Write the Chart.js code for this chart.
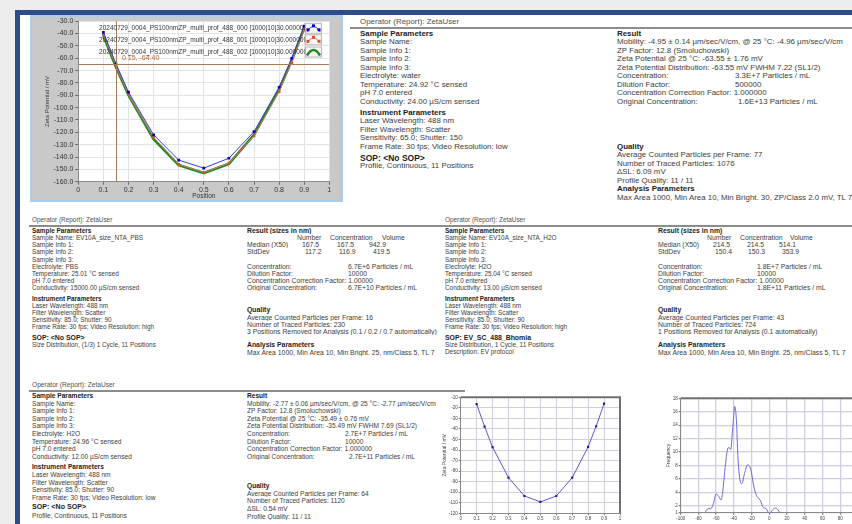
<!DOCTYPE html>
<html>
<head>
<meta charset="utf-8">
<script src="https://cdn.jsdelivr.net/npm/chart.js@4.4.1/dist/chart.umd.min.js"></script>
<style>
html, body { margin: 0; padding: 0; }
body { width: 852px; height: 524px; overflow: hidden; position: relative; background: #fff;
       font-family: "Liberation Sans", Arial, sans-serif; }
.abs { position: absolute; }
.ln { position: absolute; white-space: nowrap; color: #3c3c3c; }
.ln span { position: absolute; top: 0; white-space: nowrap; }
.b { font-weight: bold; color: #1c1c1c; }
.hd { color: #505050; }
canvas { position: absolute; }
</style>
</head>
<body>

<div class="abs" style="left:0;top:0;width:852px;height:11px;background:#ededed"></div>
<div class="abs" style="left:0;top:0;width:15px;height:524px;background:#ededed"></div>
<div class="abs" style="left:15px;top:10px;width:837px;height:5px;background:#2d4c8a"></div>
<div class="abs" style="left:15px;top:10px;width:5px;height:514px;background:#2d4c8a"></div>

<div class="abs" style="left:30px;top:15px;width:313px;height:187px;background:#c9c9c9;border:2px solid #a9cdea;box-sizing:border-box"></div>
<canvas id="profileChart" width="313" height="187" style="left:30px;top:15px"></canvas>

<div id="text"></div>

<div class="abs" style="left:440px;top:392px;width:412px;height:132px;background:#fff"></div>
<canvas id="h2oChart" width="200" height="132" style="left:440px;top:392px"></canvas>
<canvas id="freqChart" width="230" height="132" style="left:640px;top:392px"></canvas>

<script>
// top chart: three runs of the zeta potential profile
const positions = [0.1, 0.15, 0.2, 0.3, 0.4, 0.5, 0.6, 0.7, 0.8, 0.85, 0.9];
const zp000 = [-39, -64.5, -87.5, -122, -142.5, -149, -141, -119.5, -83.5, -60, -34];
const zp001 = [-41, -66, -89.5, -124, -146, -152.5, -145, -123, -87, -63.5, -37];
const zp002 = [-42, -67, -90, -125.5, -146.5, -153, -145.5, -122, -85.5, -62, -35.5];
const runNames = [
  '20240729_0004_PS100nmZP_multi_prof_488_000 [1000|10|30.000000',
  '20240729_0004_PS100nmZP_multi_prof_488_001 [1000|10|30.000000',
  '20240729_0004_PS100nmZP_multi_prof_488_002 [1000|10|30.000000'
];
const cursorX = 0.15;
const cursorY = -64.40;

// bottom middle: profile of the H2O sample
const h2oZp = [-16.5, -37.8, -57.3, -86.2, -103.6, -109.2, -103.6, -86.2, -57, -37.5, -16];

// bottom right: zeta potential distribution
const freqMv = [-73, -69, -66, -63, -60, -57, -54.5, -52.5, -50, -47.5, -45.5, -43.5, -41.5, -39, -37, -35.5, -33.5, -31, -28, -24.5, -21, -18, -15, -12.5, -10, -7, -3.5, 0, 3.5, 7, 10, 12.5];
const freqCount = [1, 1.6, 1.6, 2.4, 3.8, 3.4, 2.9, 4.2, 7.5, 10.2, 10.7, 10.4, 13.2, 16.8, 14.5, 9.5, 6.2, 5.3, 6.8, 8.1, 7.5, 5.3, 3.7, 3.2, 2.8, 1.8, 1.6, 0.8, 1.4, 1.7, 1.4, 0.8];
const freqTicks = [1, 2, 4, 6, 8, 10, 12, 14, 16, 18];

const FONT = '"Liberation Sans", Arial, sans-serif';
Chart.defaults.font.family = FONT;
Chart.defaults.animation = false;
Chart.defaults.plugins.tooltip.enabled = false;
Chart.defaults.plugins.legend.display = false;

function pts(xs, ys) { return xs.map((x, i) => ({ x: x, y: ys[i] })); }

// white plot area plus the darker top/right frame of the report graphs
const plotFrame = {
  id: 'plotFrame',
  beforeDraw(chart, args, opts) {
    const a = chart.chartArea, c = chart.ctx;
    c.save();
    c.fillStyle = opts.bg || '#fff';
    c.fillRect(a.left, a.top, a.right - a.left, a.bottom - a.top);
    c.restore();
  },
  afterDraw(chart, args, opts) {
    if (!opts.frame) return;
    const a = chart.chartArea, c = chart.ctx;
    c.save();
    c.strokeStyle = opts.frame;
    c.lineWidth = 2;
    c.beginPath();
    c.moveTo(a.left, a.top);
    c.lineTo(a.right, a.top);
    c.lineTo(a.right, a.bottom);
    c.stroke();
    c.restore();
  }
};

// crosshair cursor and the legend box of the top graph
const cursorAndLegend = {
  id: 'cursorAndLegend',
  afterDatasetsDraw(chart) {
    const c = chart.ctx, a = chart.chartArea;
    const px = chart.scales.x.getPixelForValue(cursorX);
    const py = chart.scales.y.getPixelForValue(cursorY);
    c.save();
    c.strokeStyle = '#a87a5c';
    c.lineWidth = 1;
    c.beginPath();
    c.moveTo(Math.round(px) + 0.5, a.top); c.lineTo(Math.round(px) + 0.5, a.bottom);
    c.moveTo(a.left, Math.round(py) + 0.5); c.lineTo(a.right, Math.round(py) + 0.5);
    c.stroke();
    c.fillStyle = '#b8643c';
    c.font = '7px ' + FONT;
    c.textBaseline = 'middle';
    c.fillText(cursorX.toFixed(2) + ', ' + cursorY.toFixed(2), px + 6, py - 6);

    const swX = 275, swW = 17, rows = [13.3, 24.8, 37];
    c.font = '6.5px ' + FONT;
    c.textAlign = 'right';
    c.fillStyle = '#333';
    rows.forEach((ry, i) => c.fillText(runNames[i], swX + 2, ry));
    const cols = ['#3c3ccc', '#e07070', '#1e8c1e'];
    rows.forEach((ry, i) => {
      const x = swX, y = ry - 5.5, h = 11;
      c.fillStyle = '#f7f7f7';
      c.fillRect(x, y, swW, h);
      c.strokeStyle = '#b8b8b8';
      c.lineWidth = 1;
      c.strokeRect(x + 0.5, y + 0.5, swW - 1, h - 1);
      c.strokeStyle = cols[i];
      c.lineWidth = i === 2 ? 2.5 : 1;
      c.beginPath();
      c.moveTo(x + 2, y + h - 2);
      c.quadraticCurveTo(x + swW / 2, y - 2, x + swW - 2, y + h - 2);
      c.stroke();
      if (i < 2) {
        c.fillStyle = i === 0 ? '#0000c8' : '#e0502a';
        [[x + 3, y + h - 4], [x + swW / 2, y + 3], [x + swW - 3, y + h - 4]].forEach(p => c.fillRect(p[0] - 1.5, p[1] - 1.5, 3, 3));
      }
    });
    c.restore();
  }
};

function posLabel(v) {
  if (Math.abs(v) < 1e-9) return '0';
  if (Math.abs(v - 1) < 1e-9) return '1';
  return v.toFixed(1);
}

new Chart(document.getElementById('profileChart'), {
  type: 'line',
  data: {
    datasets: [
      { label: runNames[0], data: pts(positions, zp000), borderColor: '#3c3ccc', borderWidth: 1,
        pointStyle: 'rect', pointRadius: 1.9, pointBackgroundColor: '#0000c8', pointBorderWidth: 0, order: 1 },
      { label: runNames[1], data: pts(positions, zp001), borderColor: '#e07070', borderWidth: 1,
        pointStyle: 'rect', pointRadius: 1.9, pointBackgroundColor: '#e0502a', pointBorderWidth: 0, order: 2 },
      { label: runNames[2], data: pts(positions, zp002), borderColor: '#1e8c1e', borderWidth: 2.6,
        pointRadius: 0, order: 3 }
    ]
  },
  options: {
    responsive: false,
    layout: { padding: { left: 12, right: 13.7, top: 5.7, bottom: 0 } },
    scales: {
      x: {
        type: 'linear', min: 0, max: 1,
        ticks: { stepSize: 0.1, autoSkip: false, maxRotation: 0, padding: 1, color: '#333',
                 font: { size: 7 }, callback: posLabel },
        grid: { color: '#e3e3e3', tickLength: 3, tickColor: '#666' },
        border: { color: '#8a8a8a' },
        title: { display: true, text: 'Position', color: '#333', font: { size: 6.5 }, padding: { top: 0, bottom: 2 } },
        afterFit: s => { s.height = 20.3; }
      },
      y: {
        type: 'linear', min: -160, max: -30,
        ticks: { stepSize: 10, autoSkip: false, padding: 2, color: '#333', font: { size: 7 },
                 callback: v => v.toFixed(1) },
        grid: { color: '#e3e3e3', tickLength: 3, tickColor: '#666' },
        border: { color: '#8a8a8a' },
        title: { display: true, text: 'Zeta Potential / mV', color: '#333', font: { size: 6 }, padding: { top: 2, bottom: 0 } },
        afterFit: s => { s.width = 36.3; }
      }
    },
    plugins: { plotFrame: { bg: '#ffffff' } }
  },
  plugins: [plotFrame, cursorAndLegend]
});

new Chart(document.getElementById('h2oChart'), {
  type: 'line',
  data: {
    datasets: [
      { data: pts(positions, h2oZp), borderColor: '#5a5ad0', borderWidth: 1,
        pointStyle: 'rect', pointRadius: 1.5, pointBackgroundColor: '#1a1a90', pointBorderWidth: 0 }
    ]
  },
  options: {
    responsive: false,
    layout: { padding: { left: 0, right: 20, top: 5.3, bottom: 0 } },
    scales: {
      x: {
        type: 'linear', min: 0, max: 1,
        ticks: { stepSize: 0.1, autoSkip: false, maxRotation: 0, padding: 1, color: '#444',
                 font: { size: 4.5 }, callback: posLabel },
        grid: { color: '#cfcfe0', tickLength: 2, tickColor: '#777' },
        border: { color: '#888' },
        afterFit: s => { s.height = 10.7; }
      },
      y: {
        type: 'linear', min: -120, max: -10,
        ticks: { stepSize: 10, autoSkip: false, padding: 1, color: '#444', font: { size: 4.5 } },
        grid: { color: '#cfcfe0', tickLength: 2, tickColor: '#777' },
        border: { color: '#888' },
        title: { display: true, text: 'Zeta Potential / mV', color: '#444', font: { size: 5 }, padding: { top: 2, bottom: 0 } },
        afterFit: s => { s.width = 20.7; }
      }
    },
    plugins: { plotFrame: { bg: '#ffffff', frame: '#707070' } }
  },
  plugins: [plotFrame]
});

new Chart(document.getElementById('freqChart'), {
  type: 'line',
  data: {
    datasets: [
      { data: pts(freqMv, freqCount), borderColor: '#6a6ad8', borderWidth: 1, pointRadius: 0,
        cubicInterpolationMode: 'monotone' }
    ]
  },
  options: {
    responsive: false,
    layout: { padding: { left: 23.7, right: 12.1, top: 6.3, bottom: 0 } },
    scales: {
      x: {
        type: 'linear', min: -100, max: 100,
        ticks: { stepSize: 20, autoSkip: false, maxRotation: 0, padding: 1, color: '#444', font: { size: 4.5 } },
        grid: { color: '#cfcfdf', lineWidth: 1.3, tickLength: 2, tickColor: '#777' },
        border: { color: '#888' },
        afterFit: s => { s.height = 11.3; }
      },
      y: {
        type: 'linear', min: 1, max: 18,
        afterBuildTicks: s => { s.ticks = freqTicks.map(v => ({ value: v })); },
        ticks: { autoSkip: false, padding: 1, color: '#444', font: { size: 4.5 } },
        grid: { color: '#cfcfdf', lineWidth: 1.3, tickLength: 2, tickColor: '#777' },
        border: { color: '#888' },
        title: { display: true, text: 'Frequency', color: '#444', font: { size: 5 }, padding: { top: 2, bottom: 0 } },
        afterFit: s => { s.width = 17; }
      }
    },
    plugins: { plotFrame: { bg: '#ffffff', frame: '#707070' } }
  },
  plugins: [plotFrame]
});

// ---- report text blocks ----
const host = document.getElementById('text');
function hline(x1, x2, y) {
  const d = document.createElement('div');
  d.className = 'abs';
  d.style.cssText = 'left:' + x1 + 'px;top:' + y + 'px;width:' + (x2 - x1) + 'px;height:2px;background:#8c8c8c';
  host.appendChild(d);
}
// entries: string ('*' prefix = bold header), number = extra gap in px,
// array of [text, dx] = parts placed at offsets
function column(x, y, step, size, gap, maxW, entries) {
  let yy = y;
  entries.forEach(e => {
    if (typeof e === 'number') { yy += e; return; }
    const d = document.createElement('div');
    d.className = 'ln';
    let fs = size;
    if (typeof e === 'string' && e[0] === '*') {
      yy += (e.startsWith('*Sample') || e.startsWith('*Result')) ? 0 : gap;
      d.className += ' b';
      e = e.slice(1);
      if (e.startsWith('SOP')) fs = size * 1.08;
    }
    d.style.left = x + 'px';
    d.style.top = (yy - step / 2) + 'px';
    d.style.fontSize = fs + 'px';
    d.style.lineHeight = step + 'px';
    d.style.height = step + 'px';
    if (maxW) { d.style.width = maxW + 'px'; d.style.overflow = 'hidden'; }
    if (Array.isArray(e)) {
      e.forEach(p => {
        const s = document.createElement('span');
        s.textContent = p[0];
        s.style.left = p[1] + 'px';
        d.appendChild(s);
      });
    } else {
      d.textContent = e;
    }
    host.appendChild(d);
    yy += step;
  });
}
function header(x, y, step, size) {
  const d = document.createElement('div');
  d.className = 'ln hd';
  d.style.cssText = 'left:' + x + 'px;top:' + (y - step / 2) + 'px;font-size:' + size + 'px;line-height:' + step + 'px';
  d.textContent = 'Operator (Report): ZetaUser';
  host.appendChild(d);
}

// top right
header(360, 22, 8.5, 7.9);
hline(350, 852, 27);
column(360, 34, 8.5, 7.9, 2.5, 0, [
  '*Sample Parameters', 'Sample Name:', 'Sample Info 1:', 'Sample Info 2:', 'Sample Info 3:',
  'Electrolyte: water', 'Temperature: 24.92 °C sensed', 'pH 7.0 entered', 'Conductivity: 24.00 µS/cm sensed',
  '*Instrument Parameters', 'Laser Wavelength: 488 nm', 'Filter Wavelength: Scatter',
  'Sensitivity: 65.0; Shutter: 150', 'Frame Rate: 30 fps; Video Resolution: low',
  '*SOP: <No SOP>', 'Profile, Continuous, 11 Positions'
]);
column(617, 34, 8.5, 7.9, 0, 0, [
  '*Result', 'Mobility: -4.95 ± 0.14 µm/sec/V/cm, @ 25 °C: -4.96 µm/sec/V/cm',
  'ZP Factor: 12.8  (Smoluchowski)', 'Zeta Potential @ 25 °C: -63.55 ± 1.76 mV',
  'Zeta Potential Distribution: -63.55 mV FWHM 7.22 (SL1/2)',
  [['Concentration:', 0], ['3.3E+7 Particles / mL', 118]],
  [['Dilution Factor:', 0], ['500000', 118]],
  'Concentration Correction Factor: 1.000000',
  [['Original Concentration:', 0], ['1.6E+13 Particles / mL', 121]],
  36.5,
  '*Quality', 'Average Counted Particles per Frame: 77', 'Number of Traced Particles: 1076',
  'ΔSL: 6.09 mV', 'Profile Quality: 11 / 11', '*Analysis Parameters',
  'Max Area 1000, Min Area 10, Min Bright. 30, ZP/Class 2.0 mV, TL 7'
]);

// middle left
header(32, 219.5, 7.15, 6.4);
hline(29, 852, 224.5);
column(32, 230.5, 7.15, 6.4, 3.3, 0, [
  '*Sample Parameters', 'Sample Name: EV10A_size_NTA_PBS', 'Sample Info 1:', 'Sample Info 2:', 'Sample Info 3:',
  'Electrolyte: PBS', 'Temperature: 25.01 °C sensed', 'pH 7.0 entered', 'Conductivity: 15000.00 µS/cm sensed',
  '*Instrument Parameters', 'Laser Wavelength: 488 nm', 'Filter Wavelength: Scatter',
  'Sensitivity: 85.0; Shutter: 90', 'Frame Rate: 30 fps; Video Resolution: high',
  '*SOP: <No SOP>', 'Size Distribution, (1/3) 1 Cycle, 11 Positions'
]);
column(247, 230.5, 7.15, 6.85, 0, 192, [
  '*Result (sizes in nm)',
  [['Number', 50], ['Concentration', 83], ['Volume', 135]],
  [['Median (X50)', 0], ['167.5', 55], ['167.5', 90], ['942.9', 122]],
  [['StdDev', 0], ['117.2', 58], ['116.9', 92], ['419.5', 126]],
  '',
  [['Concentration:', 0], ['6.7E+6 Particles / mL', 101]],
  [['Dilution Factor:', 0], ['10000', 101]],
  'Concentration Correction Factor: 1.00000',
  [['Original Concentration:', 0], ['6.7E+10 Particles / mL', 101]],
  15.1,
  '*Quality', 'Average Counted Particles per Frame: 16', 'Number of Traced Particles: 230',
  '3 Positions Removed for Analysis (0.1 / 0.2 / 0.7 automatically)',
  6.4,
  '*Analysis Parameters', 'Max Area 1000, Min Area 10, Min Bright. 25, nm/Class 5, TL 7'
]);

// middle right
header(445, 219.5, 7.15, 6.4);
column(445, 230.5, 7.15, 6.4, 3.3, 0, [
  '*Sample Parameters', 'Sample Name: EV10A_size_NTA_H2O', 'Sample Info 1:', 'Sample Info 2:', 'Sample Info 3:',
  'Electrolyte: H2O', 'Temperature: 25.04 °C sensed', 'pH 7.0 entered', 'Conductivity: 13.00 µS/cm sensed',
  '*Instrument Parameters', 'Laser Wavelength: 488 nm', 'Filter Wavelength: Scatter',
  'Sensitivity: 85.0; Shutter: 90', 'Frame Rate: 30 fps; Video Resolution: high',
  '*SOP: EV_SC_488_Bhomia', 'Size Distribution, 1 Cycle, 11 Positions', 'Description: EV protocol'
]);
column(658, 230.5, 7.15, 6.85, 0, 0, [
  '*Result (sizes in nm)',
  [['Number', 49], ['Concentration', 82], ['Volume', 132]],
  [['Median (X50)', 0], ['214.5', 55], ['214.5', 89], ['514.1', 121]],
  [['StdDev', 0], ['150.4', 57], ['150.3', 90], ['353.9', 124]],
  '',
  [['Concentration:', 0], ['1.8E+7 Particles / mL', 99]],
  [['Dilution Factor:', 0], ['10000', 99]],
  'Concentration Correction Factor: 1.00000',
  [['Original Concentration:', 0], ['1.8E+11 Particles / mL', 99]],
  15.1,
  '*Quality', 'Average Counted Particles per Frame: 43', 'Number of Traced Particles: 724',
  '1 Positions Removed for Analysis (0.1 automatically)',
  6.4,
  '*Analysis Parameters', 'Max Area 1000, Min Area 10, Min Bright. 25, nm/Class 5, TL 7'
]);

// bottom left
header(32, 385, 7.6, 6.6);
hline(29, 465, 389.5);
column(32, 395.7, 7.6, 6.6, 3.0, 0, [
  '*Sample Parameters', 'Sample Name:', 'Sample Info 1:', 'Sample Info 2:', 'Sample Info 3:',
  'Electrolyte: H2O', 'Temperature: 24.96 °C sensed', 'pH 7.0 entered', 'Conductivity: 12.00 µS/cm sensed',
  '*Instrument Parameters', 'Laser Wavelength: 488 nm', 'Filter Wavelength: Scatter',
  'Sensitivity: 85.0; Shutter: 90', 'Frame Rate: 30 fps; Video Resolution: low',
  '*SOP: <No SOP>', 'Profile, Continuous, 11 Positions'
]);
column(247, 395.7, 7.6, 6.6, 0, 190, [
  '*Result', 'Mobility: -2.77 ± 0.06 µm/sec/V/cm, @ 25 °C: -2.77 µm/sec/V/cm',
  'ZP Factor: 12.8  (Smoluchowski)', 'Zeta Potential @ 25 °C: -35.49 ± 0.76 mV',
  'Zeta Potential Distribution: -35.49 mV FWHM 7.69 (SL1/2)',
  [['Concentration:', 0], ['2.7E+7 Particles / mL', 98]],
  [['Dilution Factor:', 0], ['10000', 98]],
  'Concentration Correction Factor: 1.000000',
  [['Original Concentration:', 0], ['2.7E+11 Particles / mL', 102]],
  21.9,
  '*Quality', 'Average Counted Particles per Frame: 64', 'Number of Traced Particles: 1120',
  'ΔSL: 0.54 mV', 'Profile Quality: 11 / 11'
]);
</script>
</body>
</html>
